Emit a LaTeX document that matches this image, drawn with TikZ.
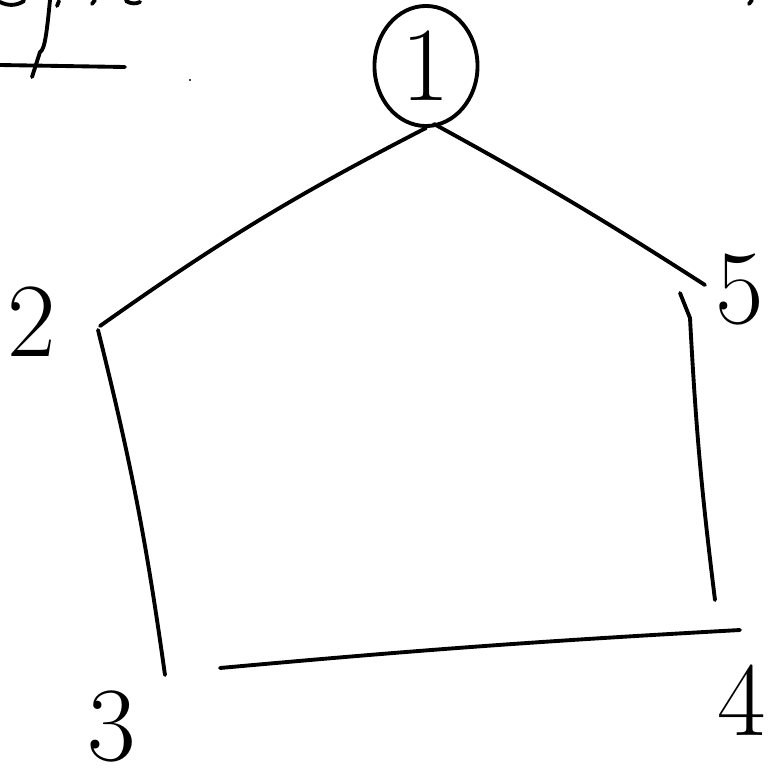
\documentclass[tikz,border=0pt]{standalone}
\usepackage{tikz}
\usetikzlibrary{shapes,positioning}

\begin{document}
\begin{tikzpicture}[x=0.01cm, y=-0.01cm, line cap=round, line join=round]
    % Define styles
    \tikzstyle{vertex} = [ellipse, draw=black, line width=1.1pt, minimum width=1.03cm, minimum height=1.2cm, inner sep=0pt, font=\fontsize{30}{32}\selectfont]
    \tikzstyle{label} = [inner sep=0pt, font=\fontsize{30}{32}\selectfont]
    \tikzstyle{edge} = [line width=1.1pt]

    \useasboundingbox (0,0) rectangle (774,778);

    % Nodes
    \node [vertex] (one) at (426,66) {1};
    \node [label] (two) at (32,322) {2};
    \node [label] (three) at (112,726) {3};
    \node [label] (four) at (742,700) {4};
    \node [label] (five) at (740,290) {5};

    % Edge ends
    \coordinate (a2) at (100,326);
    \coordinate (b2) at (98,330);
    \coordinate (a3) at (165,675);
    \coordinate (b3) at (220,668);
    \coordinate (a4) at (740,630);
    \coordinate (b4) at (715,600);
    \coordinate (a5) at (705,285);
    \coordinate (b5) at (680,293);

    % Edges
    \draw [edge] (one.south) to[bend right=4] (a2);
    \draw [edge] (one.south) ++(8,-4) coordinate (c1) to[bend left=2] (a5);
    \draw [edge] (b2) to[bend left=3] (a3);
    \draw [edge] (b3) to[bend left=1] (a4);
    \draw [edge] (b5) -- (690,318) coordinate (c5) to[bend right=2] (b4);

    % Scribbles at the top left
    \draw [edge] (0,65) -- (125,67);
    \draw [edge] (50,0) .. controls (47,30) and (45,50) .. (40,52) -- (32,77);
    \draw [edge] (0,2) .. controls (8,6) and (16,6) .. (24,1);
    \draw [edge] (57,6) -- (59,1);
    \draw [edge] (92,4) -- (95,0);
    \draw [edge] (126,1) .. controls (131,4) and (136,4) .. (140,2);
    \fill (190,80) circle (1.2);
    \draw [edge] (749,4) -- (752,0);
\end{tikzpicture}
\end{document}
